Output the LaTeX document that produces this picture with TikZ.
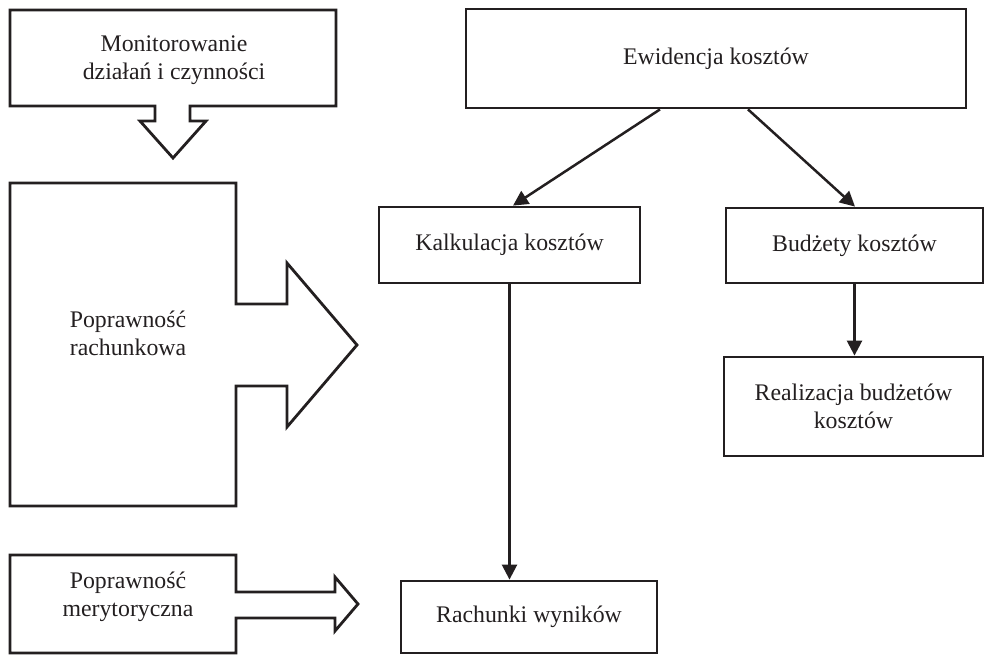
\documentclass[tikz,border=0pt]{standalone}
\usepackage{fontspec}
\setmainfont{Liberation Serif}
\usetikzlibrary{arrows.meta,calc}
\definecolor{ink}{HTML}{231F20}
\begin{document}
\begin{tikzpicture}[x=1pt,y=-1pt,
  lbl/.style={font=\fontsize{23.8}{28}\selectfont, text=ink, align=center, inner sep=0pt},
  blockarrow/.style={draw=ink, line width=2.8pt, line join=miter},
  box/.style={draw=ink, line width=2.8pt, inner sep=0pt, font=\fontsize{23.8}{28}\selectfont, text=ink, align=center},
  conn/.style={draw=ink, line width=2.5pt, -{Triangle[length=15pt,width=15pt]}}
]
\useasboundingbox (0,0) rectangle (985,655);

% left column block arrows
\draw[blockarrow] (10,10) -- (336,10) -- (336,106) -- (190,106) -- (190,121) -- (206,121)
  -- (173,158) -- (140,121) -- (155,121) -- (155,106) -- (10,106) -- cycle;
\node[lbl] (mon) at (174,60) {Monitorowanie\\działań i czynności};

\draw[blockarrow] (10,183) -- (236,183) -- (236,304) -- (287,304) -- (287,263) -- (357,345)
  -- (287,427) -- (287,386) -- (236,386) -- (236,506) -- (10,506) -- cycle;
\node[lbl] (prach) at (128,333) {Poprawność\\rachunkowa};

\draw[blockarrow] (10,555) -- (236,555) -- (236,592) -- (335,592) -- (335,577) -- (358,604)
  -- (335,631) -- (335,618) -- (236,618) -- (236,653) -- (10,653) -- cycle;
\node[lbl] (pmer) at (128,597) {Poprawność\\merytoryczna};

% right side boxes
\node[box, minimum width=500pt, minimum height=99pt] (ew) at (716,58.5) {Ewidencja kosztów};
\node[box, minimum width=261pt, minimum height=76pt] (kalk) at (509.5,245) {Kalkulacja kosztów};
\node[box, minimum width=257pt, minimum height=75pt] (bud) at (854.5,245.5) {Budżety kosztów};
\node[box, minimum width=259pt, minimum height=99pt] (real) at (853.5,406.5) {Realizacja budżetów\\kosztów};
\node[box, minimum width=256pt, minimum height=72pt] (rach) at (529,617) {Rachunki wyników};

% connectors
\draw[conn] ([xshift=-56pt]ew.south) -- ([xshift=3.5pt]kalk.north);
\draw[conn] ([xshift=32pt]ew.south) -- ([xshift=0.5pt]bud.north);
\draw[conn] (bud.south) -- (bud.south |- real.north);
\draw[conn] (kalk.south) -- (kalk.south |- rach.north);
\end{tikzpicture}
\end{document}
